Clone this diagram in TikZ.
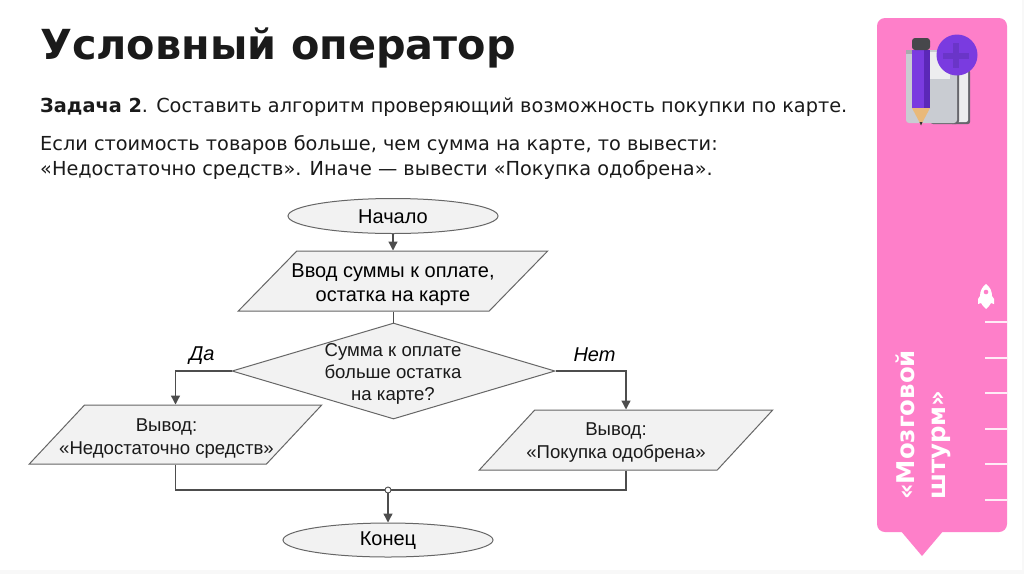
\documentclass[tikz,border=0pt]{standalone}
\usepackage{fontspec}
\setmainfont{Liberation Sans}
\newfontfamily\headfont{DejaVu Sans}
\usetikzlibrary{shapes.geometric,arrows.meta,calc}
\definecolor{panelpink}{HTML}{FE7FC9}
\definecolor{shapefill}{HTML}{F2F2F2}
\definecolor{shapeline}{HTML}{666666}
\definecolor{wireline}{HTML}{4D4D4D}
\definecolor{inkblack}{HTML}{1A1A1A}
\definecolor{icongrey}{HTML}{C9CCD2}
\definecolor{iconedge}{HTML}{A8A9AD}
\definecolor{icontip}{HTML}{E9B97A}
\definecolor{iconviolet}{HTML}{7A3BE0}
\definecolor{icondeep}{HTML}{5B28B8}
\definecolor{iconplus}{HTML}{6A35C8}
\definecolor{iconcap}{HTML}{47474B}
\definecolor{iconpage}{HTML}{EDEDEF}
\definecolor{iconback}{HTML}{66666C}
\definecolor{edgegrey}{HTML}{F8F8F8}
\tikzset{
  x=1pt,y=-1pt,
  flowtext/.style={font=\fontsize{18.6}{23}\selectfont,text=inkblack,align=center},
  tighttext/.style={font=\fontsize{18.6}{22}\selectfont,text=inkblack,align=center},
  bigflow/.style={font=\fontsize{20}{24}\selectfont,text=black,align=center},
  terminal/.style={draw=shapeline,fill=shapefill,line width=1pt,ellipse,inner sep=0pt},
  iobox/.style={draw=shapeline,fill=shapefill,line width=1pt,trapezium,trapezium left angle=44,trapezium right angle=136,trapezium stretches=true,inner sep=0pt,font=\fontsize{18.6}{23}\selectfont},
  decision/.style={draw=shapeline,fill=shapefill,line width=1pt,diamond,inner sep=0pt,minimum width=323pt,minimum height=96pt},
  wire/.style={draw=wireline,line width=1.3pt},
  arrowwire/.style={wire,-{Triangle[length=9pt,width=9pt]}},
  branch/.style={font=\fontsize{20}{22}\selectfont\itshape,text=black},
  headline/.style={anchor=base west,inner sep=0pt,font=\headfont\bfseries\fontsize{41.4}{46}\selectfont,text=inkblack},
  bodyline/.style={anchor=base west,inner sep=0pt,font=\headfont\fontsize{19.3}{23}\selectfont,text=inkblack},
  sidetext/.style={anchor=base west,inner sep=0pt,rotate=90,font=\headfont\bfseries\fontsize{24.4}{28}\selectfont,text=white},
  tick/.style={draw=white!85!panelpink,line width=1.2pt},
}
\begin{document}
\begin{tikzpicture}
\useasboundingbox (0,0) rectangle (1024,574);
\fill[white] (0,0) rectangle (1024,574);
\fill[edgegrey] (1022,0) rectangle (1024,574);
\fill[edgegrey] (0,570) rectangle (1024,574);
% panel
\fill[panelpink,rounded corners=8pt] (877,18) -- (1007,18) -- (1007,532) -- (877,532) -- cycle;
\fill[panelpink] (900,530) -- (944,530) -- (922,556) -- cycle;
\foreach \yy in {322,358,393,429,464,500} \draw[tick] (985,\yy) -- (1007,\yy);
% rocket
\fill[white] (986,284) .. controls (990,287) and (992,291) .. (992,296) -- (994,299) -- (994,304) -- (991,303) -- (989,306) -- (986,309) -- (983,306) -- (981,303) -- (978,304) -- (978,299) -- (980,296) .. controls (980,291) and (982,287) .. (986,284) -- cycle;
\fill[panelpink] (986,292) circle (2.3pt);
% icon
\fill[iconback,rounded corners=2pt] (950,70) rectangle (970,124);
\fill[iconpage,rounded corners=2pt] (950,70) rectangle (968,122);
\fill[iconback,rounded corners=3pt] (930,60) rectangle (959,124);
\fill[icongrey,rounded corners=3pt] (906,50) rectangle (957,123);
\fill[iconpage] (930,52) rectangle (950,79);
\fill[iconedge] (906,50) rectangle (930,54);
\fill[icontip] (912,108) -- (930,108) -- (921,125) -- cycle;
\fill[black!80] (919.5,122) -- (922.5,122) -- (921,125.5) -- cycle;
\fill[iconviolet] (912,50) rectangle (930,108);
\fill[icondeep] (924,50) rectangle (930,108);
\fill[iconcap,rounded corners=3pt] (912,38) rectangle (930,50);
\fill[iconviolet] (957,55) circle (20.5pt);
\fill[iconplus] (953,43) rectangle (959,68);
\fill[iconplus] (943,52.5) rectangle (969,58.5);
% texts
\node[headline] (title) at (40,59.5) {Условный оператор};
\node[bodyline] (l1) at (40,112) {\textbf{Задача 2}. Составить алгоритм проверяющий возможность покупки по карте.};
\node[bodyline] (l2) at (40,150) {Если стоимость товаров больше, чем сумма на карте, то вывести:};
\node[bodyline] (l3) at (40,175) {«Недостаточно средств». Иначе — вывести «Покупка одобрена».};
\node[sidetext] (s1) at (914,500) {«Мозговой};
\node[sidetext] (s2) at (945,500) {штурм»};
% flow
\node[terminal,minimum width=210pt,minimum height=35pt] (start) at (393,216) {};
\node[bigflow] (starttext) at (393,216.5) {Начало};
\node[iobox,minimum width=311pt,minimum height=60pt] (input) at (393,281) {\phantom{Вывод}};
\node[bigflow] (inputtext) at (393,285) {Ввод суммы к оплате,\\остатка на карте};
\node[decision] (check) at (393.5,371) {};
\node[tighttext] (checktext) at (393,373.5) {Сумма к оплате\\больше остатка\\на карте?};
\node[iobox,minimum width=294pt,minimum height=59pt] (no) at (175.5,434.5) {\phantom{Вывод}};
\node[flowtext] (notext) at (166.5,438.5) {Вывод:\\«Недостаточно средств»};
\node[iobox,minimum width=295pt,minimum height=60pt] (yes) at (626,440) {\phantom{Вывод}};
\node[flowtext] (yestext) at (616,442.5) {Вывод:\\«Покупка одобрена»};
\node[terminal,minimum width=210pt,minimum height=34pt] (finish) at (388,540) {};
\node[bigflow] (finishtext) at (388,541) {Конец};
\node[circle,draw=wireline,fill=white,line width=0.9pt,inner sep=0pt,minimum size=6pt] (dot) at (388,490) {};
\draw[arrowwire] (start.south) -- (start.south |- input.north);
\draw[wire] (check.north |- input.south) -- (check.north);
\draw[arrowwire] (check.west) -| (no.center |- no.north);
\draw[arrowwire] (check.east) -| (yes.center |- yes.north);
\draw[wire] (no.center |- no.south) |- (dot.west);
\draw[wire] (yes.center |- yes.south) |- (dot.east);
\draw[arrowwire] (dot.south) -- (finish.north);
\node[branch] (da) at (202,356) {Да};
\node[branch] (net) at (594.5,355) {Нет};
\end{tikzpicture}
\end{document}
